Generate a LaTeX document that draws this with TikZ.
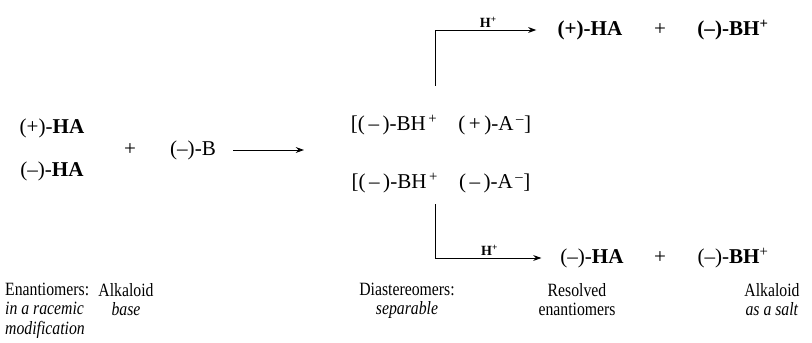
\documentclass[tikz,border=0pt]{standalone}
\usepackage{fontspec}
\setmainfont{Liberation Serif}
\newfontfamily\capfont[FakeStretch=0.84]{Liberation Serif}
\usepackage{tikz}
\usetikzlibrary{arrows.meta, positioning, calc}
\tikzset{
  chem/.style={inner sep=1pt,font=\fontsize{18}{21}\selectfont},
  chembf/.style={chem,font=\fontsize{18}{21}\selectfont\bfseries},
  caption/.style={inner sep=0pt,align=center,font=\capfont\fontsize{16}{16.5}\selectfont},
  arr/.style={-{Stealth[length=7pt,width=5pt]},line width=0.8pt,color=black},
  reag/.style={above,inner sep=2pt,font=\fontsize{12}{14}\selectfont\bfseries}
}
\newcommand{\mi}{–}
\begin{document}
\begin{tikzpicture}[x=0.03cm,y=-0.03cm]
  \useasboundingbox (0,0) rectangle (812,343);

  %% racemic acid + alkaloid base
  \node[chem] (hap) at (52,128) {(+)-\textbf{HA}};
  \node[chem] (ham) at (52,171) {(\mi)-\textbf{HA}};
  \node[chem] (plusa) at (130,150) {+};
  \node[chem] (base) at (193,150) {(\mi)-B};
  \coordinate (mix) at (304,150);
  \draw[arr] (base.east) ++(16,0) coordinate (bstart) -- (mix);

  %% diastereomeric salts
  \node[chem] (dsalt) at (441,125) {[(\,\mi\,)-BH\textsuperscript{\,+}\quad(\,+\,)-A\textsuperscript{\,\mi}]};
  \node[chem] (lsalt) at (441,183) {[(\,\mi\,)-BH\textsuperscript{\,+}\quad(\,\mi\,)-A\textsuperscript{\,\mi}]};

  %% products of the upper salt
  \node[chembf] (acidp) at (590,30) {(+)-HA};
  \node[chem] (plusb) at (660,30) {+};
  \node[chembf] (saltp) at (733,30) {(\mi)-BH\textsuperscript{+}};

  %% products of the lower salt
  \node[chem] (acidm) at (592,258) {(\mi)-\textbf{HA}};
  \node[chem] (plusc) at (660,258) {+};
  \node[chem] (saltm) at (733,258) {(\mi)-\textbf{BH}\textsuperscript{+}};

  %% acid treatment
  \draw[arr,shorten >=17pt] ([xshift=-6*0.03cm,yshift=28*0.03cm]dsalt.north) |- node[reag,pos=0.72] {H\textsuperscript{+}} (acidp.west);
  \draw[arr,shorten >=15pt] ([xshift=-6*0.03cm,yshift=-10*0.03cm]lsalt.south) |- node[reag,pos=0.72] {H\textsuperscript{+}} (acidm.west);

  %% captions
  \node[caption,align=left,anchor=north west] (capa) at (5,283)
    {Enantiomers:\\\textit{in a racemic}\\\textit{modification}};
  \node[caption,anchor=north] (capb) at (126,283) {Alkaloid\\\textit{base}};
  \node[caption,anchor=north] (capc) at (407,283) {Diastereomers:\\\textit{separable}};
  \node[caption,anchor=north] (capd) at (577,283) {Resolved\\enantiomers};
  \node[caption,anchor=north] (cape) at (772,283) {Alkaloid\\\textit{as a salt}};
\end{tikzpicture}
\end{document}
